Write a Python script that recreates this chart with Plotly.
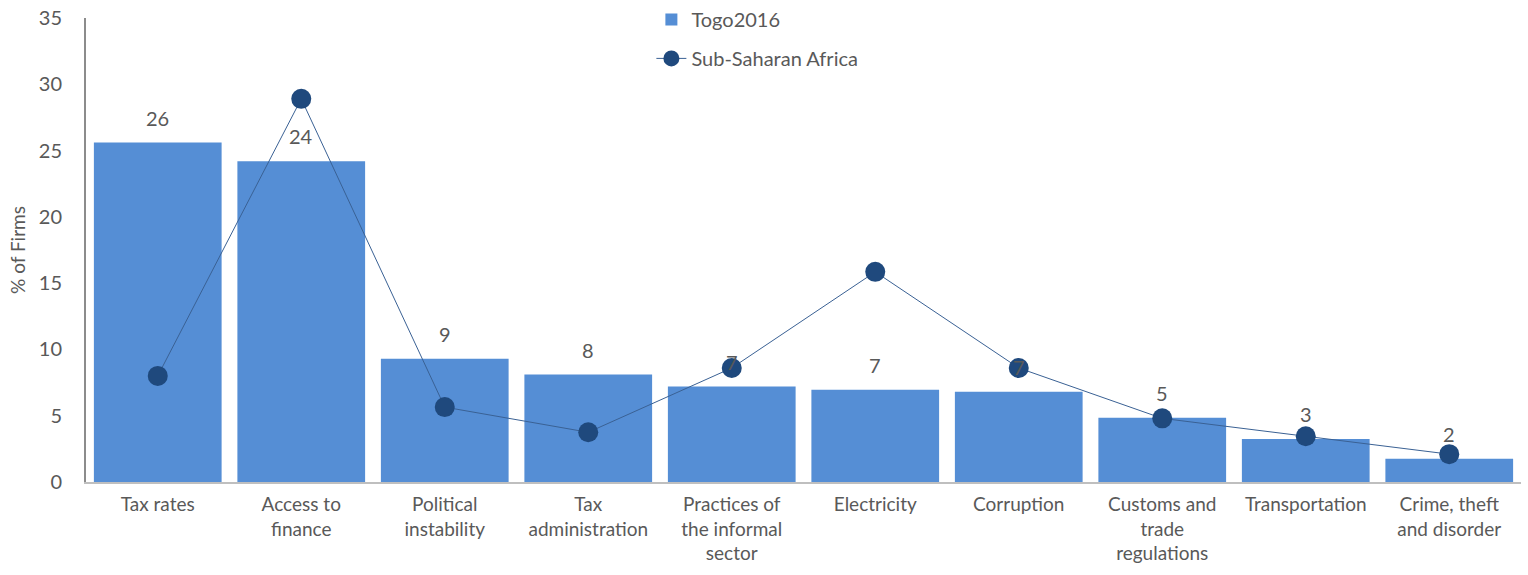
import plotly.graph_objects as go

categories = ["Tax rates", "Access to<br>finance", "Political<br>instability", "Tax<br>administration",
              "Practices of<br>the informal<br>sector", "Electricity", "Corruption",
              "Customs and<br>trade<br>regulations", "Transportation", "Crime, theft<br>and disorder"]
togo_2016 = [25.6, 24.2, 9.3, 8.1, 7.2, 6.95, 6.8, 4.85, 3.25, 1.75]
ssa = [8.0, 28.9, 5.65, 3.75, 8.6, 15.85, 8.6, 4.8, 3.45, 2.1]

font_family = "Lato, 'Open Sans', sans-serif"
gray = "#595959"

fig = go.Figure()

fig.add_trace(go.Bar(
    x=categories,
    y=togo_2016,
    name="Togo2016",
    legendgroup="a",
    marker=dict(color="#558ED5", line=dict(width=0)),
))

fig.add_trace(go.Scatter(
    x=categories,
    y=ssa,
    name="Sub-Saharan Africa",
    legendgroup="b",
    mode="lines+markers",
    line=dict(color="#3A6194", width=1),
    marker=dict(color="#1F497D", size=20),
    cliponaxis=False,
))

# etiquetas de valores encima de las barras
for cat, v in zip(categories, togo_2016):
    fig.add_annotation(
        x=cat, y=v, text=f"{v:.0f}",
        showarrow=False, yanchor="bottom", yshift=11,
        font=dict(size=20, color=gray, family=font_family),
    )

fig.update_layout(
    width=1528,
    height=575,
    plot_bgcolor="white",
    paper_bgcolor="white",
    bargap=0.11,
    margin=dict(l=86, r=7, t=18, b=93, autoexpand=False),
    font=dict(family=font_family, color=gray, size=19),
    legend=dict(
        x=0.394, xanchor="left",
        y=1.039, yanchor="top",
        orientation="v",
        font=dict(size=20, color=gray),
        bgcolor="rgba(0,0,0,0)",
        borderwidth=0,
        tracegroupgap=10,
    ),
)

fig.update_yaxes(
    range=[0, 35],
    dtick=5,
    showgrid=False,
    showline=True,
    linecolor="#8C8C8C",
    linewidth=2,
    ticks="",
    ticklabelstandoff=18,
    ticklabeloverflow="allow",
    tickfont=dict(size=20, color=gray),
    title=dict(text="% of Firms", font=dict(size=19, color=gray), standoff=8),
    zeroline=False,
    automargin=False,
)
fig.update_xaxes(
    range=[-0.5, 9.5],
    showgrid=False,
    showline=True,
    linecolor="#BFBFBF",
    linewidth=2,
    ticks="",
    tickangle=0,
    ticklabelstandoff=4,
    tickfont=dict(size=19, color=gray),
    automargin=False,
)

# quitar el margen por defecto del body para que la figura empiece en (0, 0)
fig.write_html("out.html", config={"displayModeBar": False},
               post_script="document.body.style.margin='0';")
